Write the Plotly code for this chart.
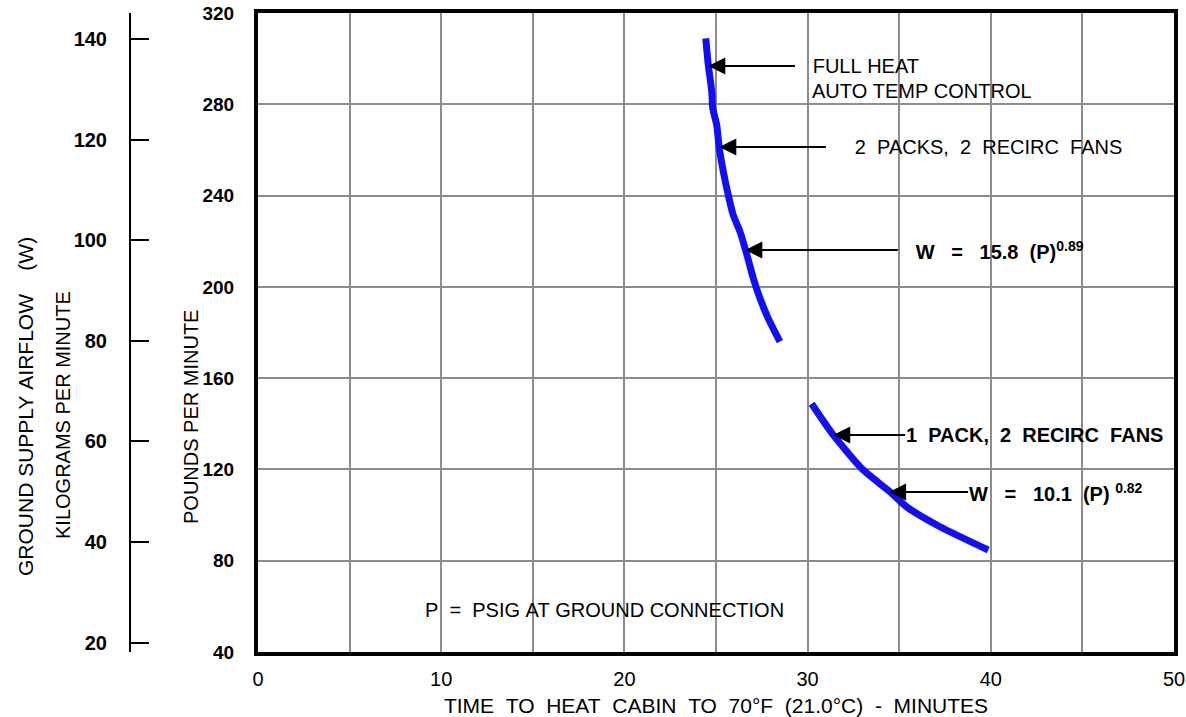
import plotly.graph_objects as go

# ---- data ----
curve1_time = [24.44, 24.58, 24.77, 24.82, 25.04, 25.18, 25.40, 25.67, 25.94, 26.31, 26.64, 27.04, 27.40, 27.85, 28.49]
curve1_lbmin = [308.9, 297.2, 285.5, 278.4, 270.9, 260.7, 250.5, 240.2, 231.5, 224.2, 215.4, 203.7, 195.0, 186.2, 176.0]

curve2_time = [30.22, 31.40, 33.04, 34.50, 35.41, 37.23, 39.86]
curve2_lbmin = [148.8, 135.1, 119.7, 110.2, 103.6, 94.9, 84.7]

x_ticks = [0, 10, 20, 30, 40, 50]
lb_ticks = [40, 80, 120, 160, 200, 240, 280, 320]
kg_ticks = [20, 40, 60, 80, 100, 120, 140]
LB_PER_KG = 2.20462

NB = "\u00a0"
# callouts: (arrow tip x, arrow tip y, text start x, text, bold)
callouts = [
    (24.58, 296.8, 29.31, NB * 3 + "FULL" + NB + "HEAT", False),
    (25.18, 261.3, 31.00, NB * 5 + "2" + NB * 2 + "PACKS," + NB * 2 + "2" + NB * 2 + "RECIRC" + NB * 2 + "FANS", False),
    (26.60, 216.1, 34.93, NB * 3 + "W" + NB * 3 + "=" + NB * 3 + "15.8" + NB * 2 + "(P)<sup>0.89</sup>", True),
    (31.40, 135.1, 35.32, "1" + NB * 2 + "PACK," + NB * 2 + "2" + NB * 2 + "RECIRC" + NB * 2 + "FANS", True),
    (34.45, 110.1, 38.76, "W" + NB * 3 + "=" + NB * 3 + "10.1" + NB * 2 + "(P)" + NB + "<sup>0.82</sup>", True),
]

W = 1186
H = 717
PLOT_W = 1174  # paper width (right margin 12)

BLUE = "#1010f2"
GRID = "#8c8c8c"
FONT = "Liberation Sans"

fig = go.Figure()
fig.add_trace(go.Scatter(x=curve1_time, y=curve1_lbmin, mode="lines",
                         line=dict(color=BLUE, width=7, shape="spline", smoothing=0.6),
                         showlegend=False, hoverinfo="skip"))
fig.add_trace(go.Scatter(x=curve2_time, y=curve2_lbmin, mode="lines",
                         line=dict(color=BLUE, width=7, shape="spline", smoothing=0.6),
                         showlegend=False, hoverinfo="skip"))
# invisible trace so the kg axis is rendered
fig.add_trace(go.Scatter(x=[None], y=[None], yaxis="y2", showlegend=False, hoverinfo="skip"))

annotations = []
for tx, ty, ax, text, bold in callouts:
    annotations.append(dict(x=tx, y=ty, ax=ax, ay=ty, xref="x", yref="y", axref="x", ayref="y",
                            text=text, showarrow=True, arrowhead=2, arrowsize=1.7, arrowwidth=2,
                            arrowcolor="black", standoff=0, startstandoff=0,
                            xanchor="left", yanchor="middle", align="left", borderpad=0,
                            font=dict(family=FONT, size=20, color="black",
                                      weight="bold" if bold else "normal")))

def label(x, y, text, bold=False, size=20):
    annotations.append(dict(x=x, y=y, xref="x", yref="y", text=text, showarrow=False,
                            xanchor="left", yanchor="middle", align="left",
                            font=dict(family=FONT, size=size, color="black",
                                      weight="bold" if bold else "normal")))

label(30.13, 285.7, "AUTO" + NB + "TEMP" + NB + "CONTROL")
label(9.0, 58.4, "P" + NB * 2 + "=" + NB * 2 + "PSIG" + NB + "AT" + NB + "GROUND" + NB + "CONNECTION")

def ytitle(px, pyc, text, size=20):
    annotations.append(dict(x=px / PLOT_W, y=1 - (pyc - 13) / 639, xref="paper", yref="paper",
                            text=text, showarrow=False, textangle=-90,
                            xanchor="center", yanchor="middle",
                            font=dict(family=FONT, size=size, color="black")))

ytitle(191, 417, "POUNDS" + NB + "PER" + NB + "MINUTE")
ytitle(63, 415, "KILOGRAMS" + NB + "PER" + NB + "MINUTE")
ytitle(25, 407, "GROUND" + NB + "SUPPLY" + NB + "AIRFLOW" + NB * 4 + "(W)", size=21)

xtitle = NB.join(["TIME", "TO", "HEAT", "CABIN", "TO", "70°F", "(21.0°C)", "-", "MINUTES"])
xtitle = xtitle.replace(NB, NB * 2)

fig.update_layout(
    width=W, height=H,
    margin=dict(l=0, r=W - PLOT_W, t=13, b=65),
    paper_bgcolor="white", plot_bgcolor="white",
    showlegend=False,
    annotations=annotations,
    xaxis=dict(
        domain=[258 / PLOT_W, 1], range=[0, 50],
        tickvals=x_ticks, ticktext=[str(v) for v in x_ticks],
        showgrid=True, gridcolor=GRID, gridwidth=2,
        minor=dict(dtick=5, showgrid=True, gridcolor=GRID, gridwidth=2),
        showline=True, linecolor="black", linewidth=4, mirror=True,
        zeroline=False, ticks="", ticklabelstandoff=6, automargin=False,
        tickfont=dict(family=FONT, size=20, color="black"),
        title=dict(text=xtitle,
                   font=dict(family=FONT, size=21, color="black"), standoff=10),
    ),
    yaxis=dict(
        range=[40, 320], tickvals=lb_ticks,
        showgrid=True, gridcolor=GRID, gridwidth=2,
        showline=True, linecolor="black", linewidth=4, mirror=True,
        zeroline=False, ticks="", ticklabelstandoff=16, automargin=False,
        tickfont=dict(family=FONT, size=19, color="black", weight="bold"),
    ),
    yaxis2=dict(
        overlaying="y", anchor="free", position=130 / PLOT_W, side="left",
        range=[40 / LB_PER_KG, 320 / LB_PER_KG], tickvals=kg_ticks,
        showgrid=False, zeroline=False, automargin=False,
        showline=True, linecolor="black", linewidth=2,
        ticks="inside", ticklen=18, tickwidth=2, tickcolor="black",
        ticklabelstandoff=18,
        tickfont=dict(family=FONT, size=20, color="black", weight="bold"),
    ),
)

fig.write_html("out.html")
